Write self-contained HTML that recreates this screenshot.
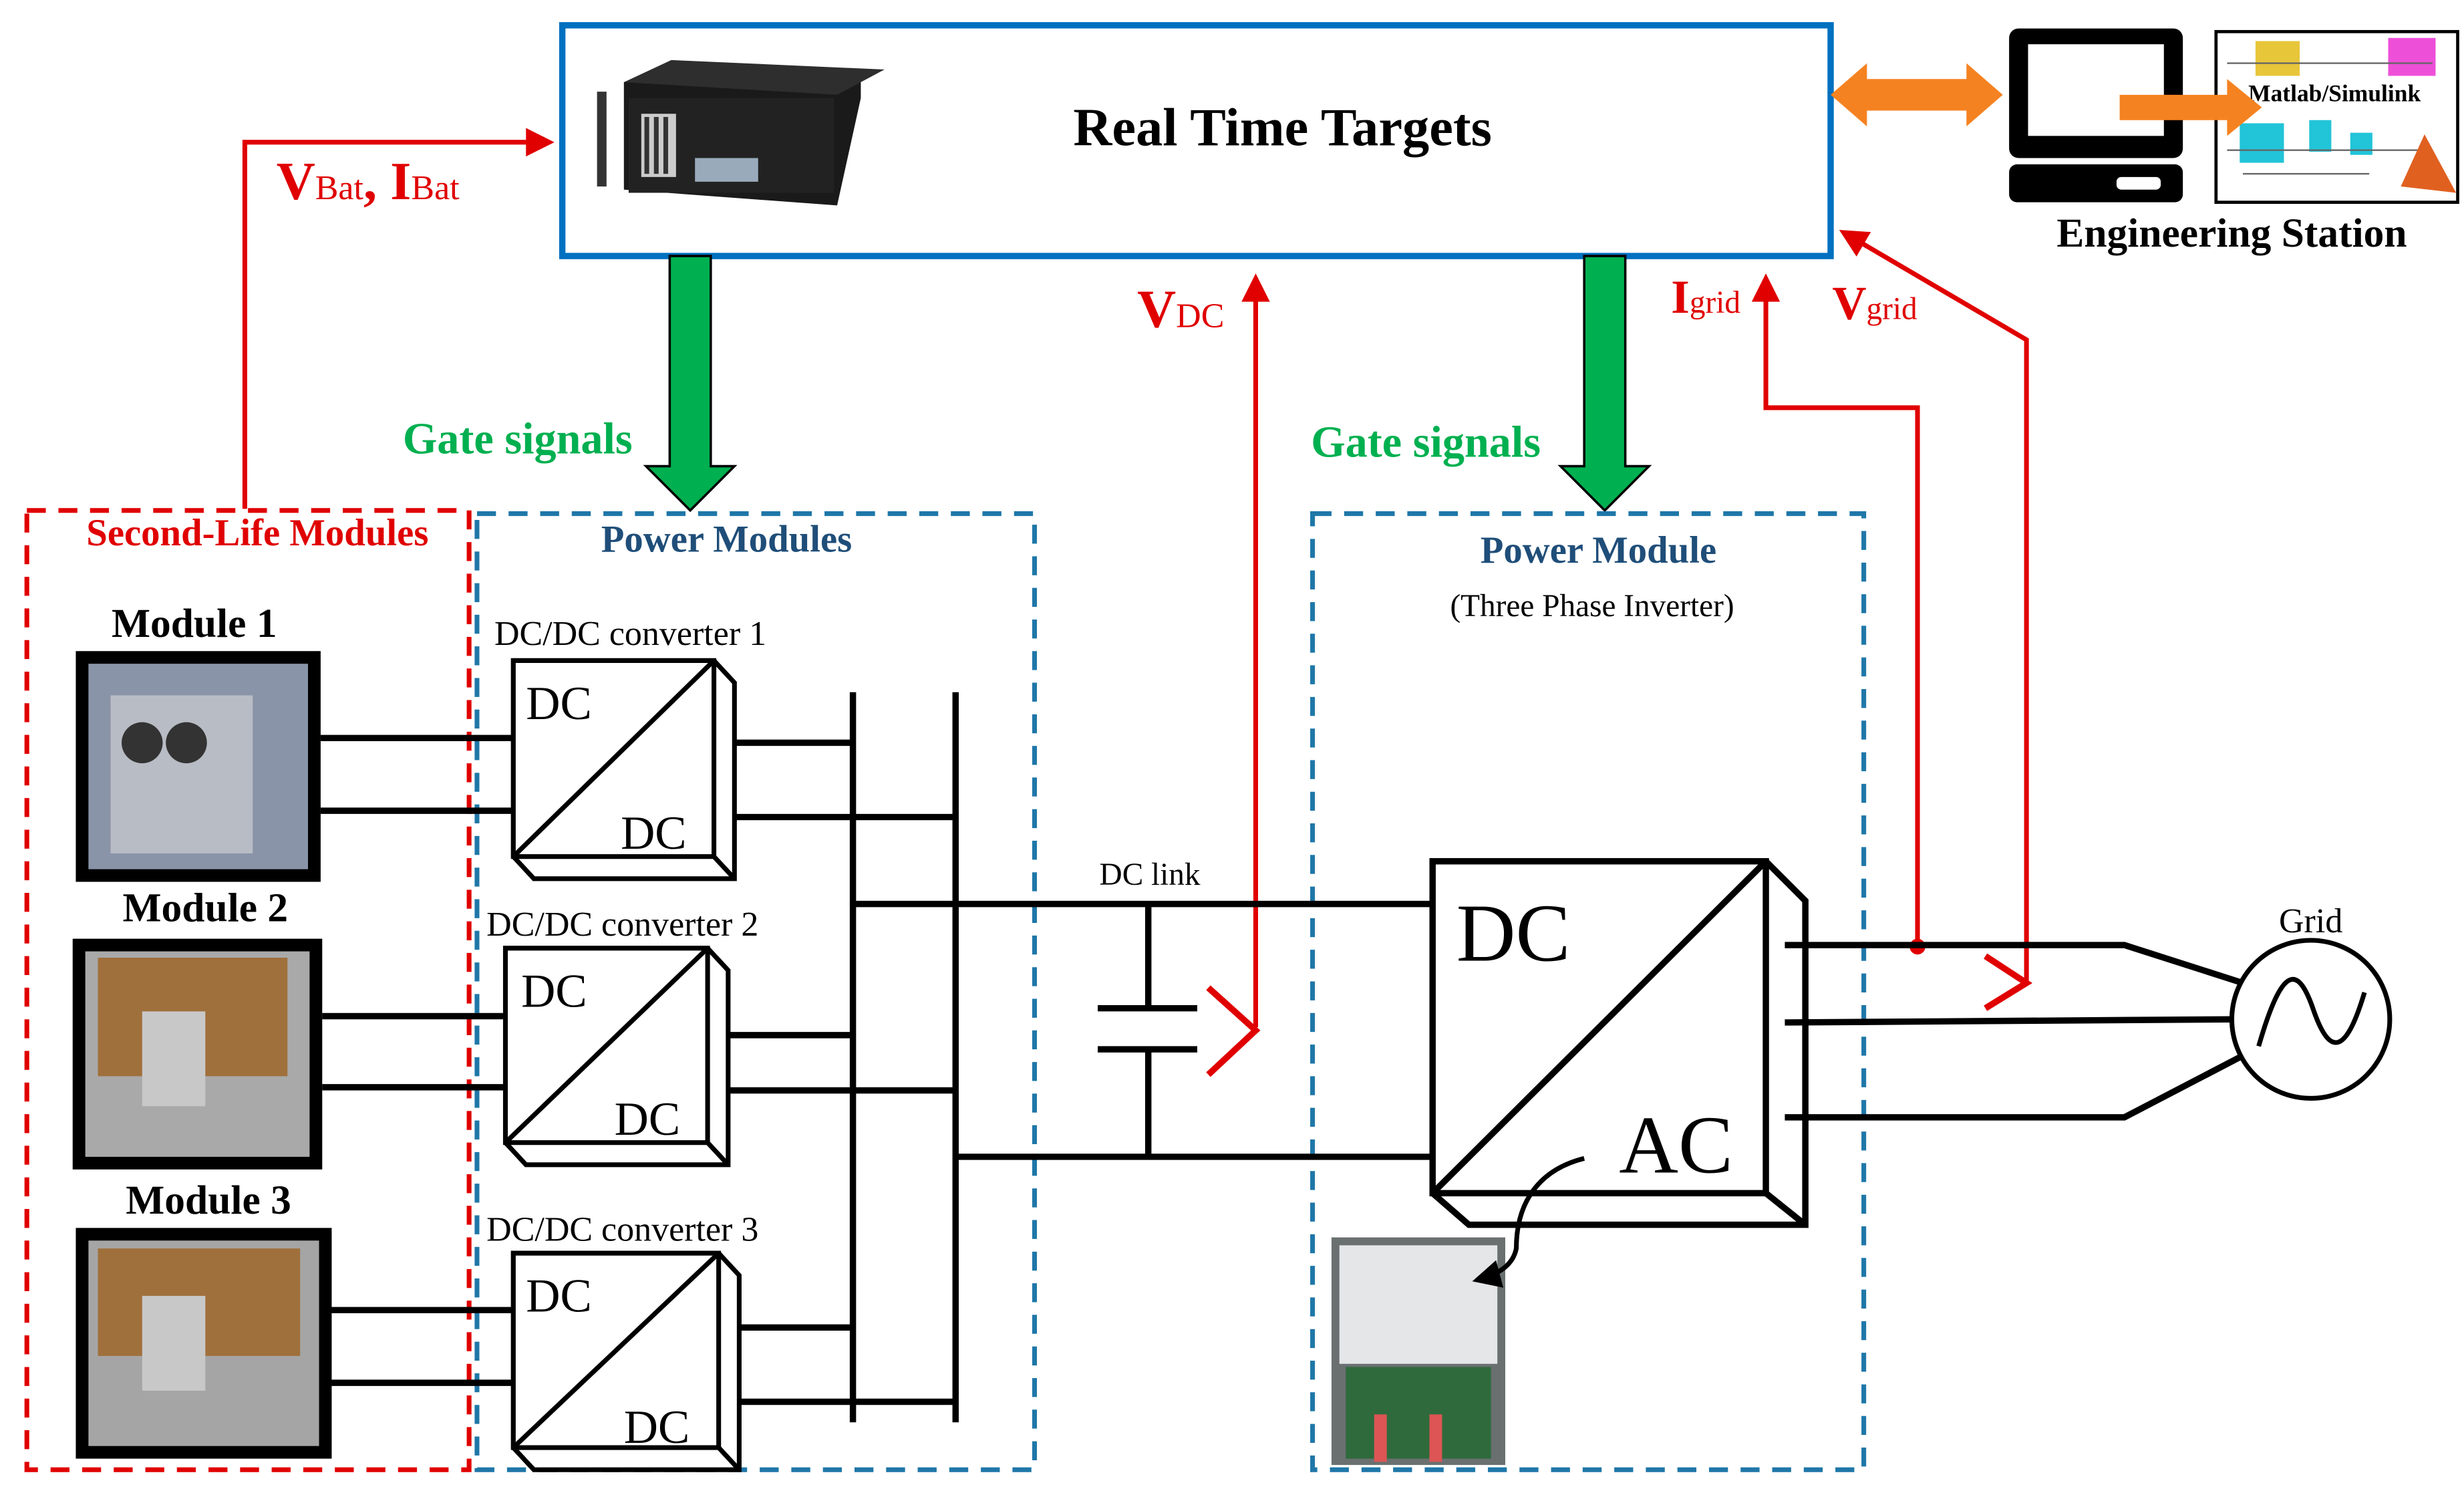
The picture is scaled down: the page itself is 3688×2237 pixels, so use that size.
<!DOCTYPE html>
<html><head><meta charset="utf-8"><style>
html,body{margin:0;padding:0;background:#fff;}
svg{display:block;}
text{font-family:"Liberation Serif",serif;}
</style></head><body>
<svg width="3688" height="2237" viewBox="0 0 1560 946" preserveAspectRatio="none" xmlns="http://www.w3.org/2000/svg">
<defs>
<marker id="ra" markerWidth="6" markerHeight="6" refX="5" refY="3" orient="auto" markerUnits="strokeWidth"><path d="M0,0 L6,3 L0,6 z" fill="#e00000"/></marker>
<marker id="ka" markerWidth="6" markerHeight="6" refX="5" refY="3" orient="auto" markerUnits="strokeWidth"><path d="M0,0 L6,3 L0,6 z" fill="#000"/></marker>
</defs>
<!-- Real time target box -->
<rect x="356" y="16" width="803" height="146" fill="#fff" stroke="#0070c0" stroke-width="4"/>
<!-- server -->
<polygon points="395,52 425,40 545,45 545,62 530,130 395,120" fill="#1a1a1a"/>
<polygon points="395,52 425,38 560,44 530,60" fill="#2e2e2e"/>
<rect x="398" y="62" width="130" height="60" fill="#222"/>
<rect x="406" y="72" width="22" height="40" fill="#ccc"/>
<rect x="408" y="74" width="3" height="36" fill="#333"/><rect x="414" y="74" width="3" height="36" fill="#333"/><rect x="420" y="74" width="3" height="36" fill="#333"/>
<rect x="440" y="100" width="40" height="15" fill="#9ab"/>
<rect x="378" y="58" width="6" height="60" fill="#333"/>
<text x="812" y="92" font-size="34" font-weight="bold" text-anchor="middle">Real Time Targets</text>
<!-- orange double arrow -->
<polygon points="1159,60 1182,40 1182,50 1245,50 1245,40 1268,60 1245,80 1245,70 1182,70 1182,80" fill="#f58220"/>
<!-- computer -->
<rect x="1272" y="18" width="110" height="82" rx="6" fill="#000"/>
<rect x="1284" y="28" width="86" height="58" fill="#fff"/>
<rect x="1272" y="104" width="110" height="24" rx="5" fill="#000"/>
<rect x="1340" y="112" width="28" height="8" rx="3" fill="#fff"/>
<!-- simulink -->
<rect x="1403" y="20" width="153" height="108" fill="#fff" stroke="#000" stroke-width="2"/>
<rect x="1428" y="26" width="28" height="22" fill="#e8c63a"/>
<rect x="1512" y="24" width="30" height="24" fill="#ee4fd8"/>
<rect x="1418" y="78" width="28" height="25" fill="#22c4d8"/>
<rect x="1462" y="76" width="14" height="20" fill="#22c4d8"/>
<rect x="1488" y="84" width="14" height="14" fill="#22c4d8"/>
<path d="M1410,40 H1540 M1410,95 H1540 M1420,110 H1500" stroke="#666" stroke-width="1"/>
<polygon points="1520,118 1535,85 1555,122" fill="#e06020"/>
<text x="1478" y="64" font-size="15" font-weight="bold" text-anchor="middle">Matlab/Simulink</text>
<polygon points="1342,60 1410,60 1410,50 1432,68 1410,86 1410,76 1342,76" fill="#f58220"/>
<text x="1413" y="156" font-size="26" font-weight="bold" text-anchor="middle">Engineering Station</text>
<!-- VBat line -->
<polyline points="155,322 155,90 348,90" fill="none" stroke="#e00000" stroke-width="3" marker-end="url(#ra)"/>
<text x="175" y="126" font-size="34" font-weight="bold" fill="#e00000">V<tspan font-size="22" font-weight="normal">Bat</tspan>, I<tspan font-size="22" font-weight="normal">Bat</tspan></text>
<!-- green arrows -->
<polygon points="424,162 450,162 450,295 465,295 437,323 409,295 424,295" fill="#00b050" stroke="#000" stroke-width="1.5"/>
<polygon points="1003,162 1029,162 1029,295 1044,295 1016,323 988,295 1003,295" fill="#00b050" stroke="#000" stroke-width="1.5"/>
<text x="255" y="287" font-size="28" font-weight="bold" fill="#00b050">Gate signals</text>
<text x="830" y="289" font-size="28" font-weight="bold" fill="#00b050">Gate signals</text>
<!-- VDC -->
<text x="720" y="207" font-size="34" font-weight="bold" fill="#e00000">V<tspan font-size="22" font-weight="normal">DC</tspan></text>
<line x1="795" y1="650" x2="795" y2="176" stroke="#e00000" stroke-width="3" marker-end="url(#ra)"/>
<polyline points="765,625 795,652 765,680" fill="none" stroke="#e00000" stroke-width="4"/>
<!-- Igrid -->
<text x="1058" y="198" font-size="30" font-weight="bold" fill="#e00000">I<tspan font-size="20" font-weight="normal">grid</tspan></text>
<polyline points="1214,598 1214,258 1118,258 1118,176" fill="none" stroke="#e00000" stroke-width="3" marker-end="url(#ra)"/>
<circle cx="1214" cy="599" r="5" fill="#e00000"/>
<!-- Vgrid -->
<text x="1160" y="202" font-size="30" font-weight="bold" fill="#e00000">V<tspan font-size="20" font-weight="normal">grid</tspan></text>
<polyline points="1283,622 1283,215 1167,147" fill="none" stroke="#e00000" stroke-width="3" marker-end="url(#ra)"/>
<polyline points="1257,605 1283,622 1257,638" fill="none" stroke="#e00000" stroke-width="4"/>
<!-- dashed boxes -->
<rect x="17" y="323" width="280" height="607" fill="none" stroke="#e00000" stroke-width="3" stroke-dasharray="12,8"/>
<rect x="302" y="325" width="353" height="605" fill="none" stroke="#1f77a8" stroke-width="3" stroke-dasharray="12,8"/>
<rect x="831" y="325" width="349" height="605" fill="none" stroke="#1f77a8" stroke-width="3" stroke-dasharray="12,8"/>
<text x="163" y="345" font-size="24" font-weight="bold" fill="#e00000" text-anchor="middle">Second-Life Modules</text>
<text x="460" y="349" font-size="24" font-weight="bold" fill="#1f4e79" text-anchor="middle">Power Modules</text>
<text x="1012" y="356" font-size="24" font-weight="bold" fill="#1f4e79" text-anchor="middle">Power Module</text>
<text x="1008" y="390" font-size="20" text-anchor="middle">(Three Phase Inverter)</text>
<!-- modules -->
<text x="123" y="403" font-size="26" font-weight="bold" text-anchor="middle">Module 1</text>
<rect x="48" y="412" width="155" height="146" fill="#000"/>
<rect x="56" y="420" width="139" height="130" fill="#8a94a8"/>
<rect x="70" y="440" width="90" height="100" fill="#b8bcc4"/>
<circle cx="90" cy="470" r="13" fill="#333"/><circle cx="118" cy="470" r="13" fill="#333"/>
<text x="130" y="583" font-size="26" font-weight="bold" text-anchor="middle">Module 2</text>
<rect x="46" y="594" width="158" height="146" fill="#000"/>
<rect x="54" y="602" width="142" height="130" fill="#a9a9a9"/>
<rect x="62" y="606" width="120" height="75" fill="#a0703c"/>
<rect x="90" y="640" width="40" height="60" fill="#c8c8c8"/>
<text x="132" y="768" font-size="26" font-weight="bold" text-anchor="middle">Module 3</text>
<rect x="48" y="777" width="162" height="146" fill="#000"/>
<rect x="56" y="785" width="146" height="130" fill="#a5a5a5"/>
<rect x="62" y="790" width="128" height="68" fill="#a0703c"/>
<rect x="90" y="820" width="40" height="60" fill="#c8c8c8"/>
<!-- module wires -->
<g stroke="#000" stroke-width="4">
<line x1="203" y1="467" x2="325" y2="467"/><line x1="203" y1="513" x2="325" y2="513"/>
<line x1="204" y1="643" x2="320" y2="643"/><line x1="204" y1="688" x2="320" y2="688"/>
<line x1="210" y1="829" x2="325" y2="829"/><line x1="210" y1="875" x2="325" y2="875"/>
<line x1="458" y1="470" x2="540" y2="470"/><line x1="458" y1="517" x2="605" y2="517"/>
<line x1="455" y1="655" x2="540" y2="655"/><line x1="455" y1="690" x2="605" y2="690"/>
<line x1="462" y1="840" x2="540" y2="840"/><line x1="462" y1="887" x2="605" y2="887"/>
<line x1="540" y1="438" x2="540" y2="900"/><line x1="605" y1="438" x2="605" y2="900"/>
<line x1="540" y1="572" x2="905" y2="572"/><line x1="605" y1="732" x2="905" y2="732"/>
<line x1="727" y1="572" x2="727" y2="638"/><line x1="727" y1="664" x2="727" y2="732"/>
<line x1="695" y1="638" x2="758" y2="638"/><line x1="695" y1="664" x2="758" y2="664"/>
</g>
<text x="728" y="560" font-size="20" text-anchor="middle">DC link</text>
<!-- converters -->
<g fill="#fff" stroke="#000" stroke-width="3">
<path d="M325,418 H452 L465,432 V556 H338 L325,542 Z"/><path d="M325,418 H452 V542 H325 Z"/><line x1="325" y1="542" x2="452" y2="418"/><line x1="452" y1="542" x2="465" y2="556"/>
<path d="M320,600 H448 L461,614 V737 H333 L320,723 Z"/><path d="M320,600 H448 V723 H320 Z"/><line x1="320" y1="723" x2="448" y2="600"/><line x1="448" y1="723" x2="461" y2="737"/>
<path d="M325,793 H455 L468,807 V930 H338 L325,916 Z"/><path d="M325,793 H455 V916 H325 Z"/><line x1="325" y1="916" x2="455" y2="793"/><line x1="455" y1="916" x2="468" y2="930"/>
</g>
<g font-size="30">
<text x="333" y="455">DC</text><text x="393" y="537">DC</text>
<text x="330" y="637">DC</text><text x="389" y="718">DC</text>
<text x="333" y="830">DC</text><text x="395" y="913">DC</text>
</g>
<g font-size="22">
<text x="313" y="408">DC/DC converter 1</text>
<text x="308" y="592">DC/DC converter 2</text>
<text x="308" y="785">DC/DC converter 3</text>
</g>
<!-- DC/AC -->
<g fill="#fff" stroke="#000" stroke-width="4">
<path d="M907,545 H1118 L1143,570 V775 H930 L907,755 Z"/><path d="M907,545 H1118 V755 H907 Z"/>
<line x1="907" y1="755" x2="1118" y2="545"/><line x1="1118" y1="755" x2="1143" y2="775"/>
</g>
<text x="922" y="608" font-size="52">DC</text>
<text x="1025" y="742" font-size="52">AC</text>
<g stroke="#000" stroke-width="4" fill="none">
<polyline points="1130,598 1345,598 1420,622"/>
<line x1="1130" y1="647" x2="1413" y2="645"/>
<polyline points="1130,707 1345,707 1420,668"/>
</g>
<circle cx="1463" cy="645" r="50" fill="#fff" stroke="#000" stroke-width="3"/>
<path d="M1430,662 C1445,610 1455,610 1465,640 C1475,668 1485,668 1497,628" fill="none" stroke="#000" stroke-width="3"/>
<text x="1463" y="590" font-size="22" text-anchor="middle">Grid</text>
<!-- inverter photo -->
<rect x="843" y="783" width="110" height="144" fill="#6a7070"/>
<rect x="848" y="788" width="100" height="75" fill="#e4e6e8"/>
<rect x="852" y="865" width="92" height="58" fill="#2f6a3c"/>
<rect x="870" y="895" width="8" height="30" fill="#d55"/><rect x="905" y="895" width="8" height="30" fill="#d55"/>
<path d="M1003,733 C975,740 960,760 960,790 C958,800 950,806 935,810" fill="none" stroke="#000" stroke-width="3" marker-end="url(#ka)"/>
</svg>
</body></html>
